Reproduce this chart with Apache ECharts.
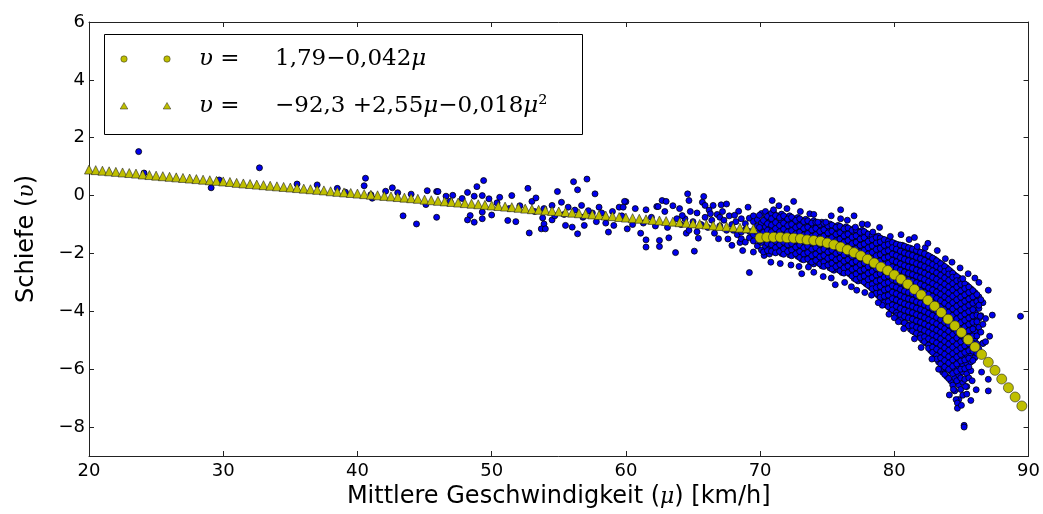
<!DOCTYPE html>
<html>
<head>
<meta charset="utf-8">
<script src="https://cdn.jsdelivr.net/npm/echarts@6.0.0/dist/echarts.min.js"></script>
<style>
	html, body { margin: 0; padding: 0; background: #fff; }
	#chart { width: 1043px; height: 514px; }
</style>
</head>
<body>
<div id="chart"></div>
<script>
/* Achsen */
const xTicks = [20, 30, 40, 50, 60, 70, 80, 90];
const yTicks = [-8, -6, -4, -2, 0, 2, 4, 6];

/* Dreiecke (linearer Fit) */
const triMu = [
	20, 20.5, 21, 21.5, 22, 22.5, 23, 23.5, 24, 24.5,
	25, 25.5, 26, 26.5, 27, 27.5, 28, 28.5, 29, 29.5,
	30, 30.5, 31, 31.5, 32, 32.5, 33, 33.5, 34, 34.5,
	35, 35.5, 36, 36.5, 37, 37.5, 38, 38.5, 39, 39.5,
	40, 40.5, 41, 41.5, 42, 42.5, 43, 43.5, 44, 44.5,
	45, 45.5, 46, 46.5, 47, 47.5, 48, 48.5, 49, 49.5,
	50, 50.5, 51, 51.5, 52, 52.5, 53, 53.5, 54, 54.5,
	55, 55.5, 56, 56.5, 57, 57.5, 58, 58.5, 59, 59.5,
	60, 60.5, 61, 61.5, 62, 62.5, 63, 63.5, 64, 64.5,
	65, 65.5, 66, 66.5, 67, 67.5, 68, 68.5, 69, 69.5
];
const triV = [
	0.90, 0.88, 0.86, 0.84, 0.82, 0.80, 0.78, 0.76, 0.73, 0.71,
	0.69, 0.67, 0.65, 0.63, 0.61, 0.59, 0.57, 0.55, 0.53, 0.51,
	0.49, 0.47, 0.44, 0.42, 0.40, 0.38, 0.36, 0.34, 0.32, 0.30,
	0.28, 0.26, 0.24, 0.22, 0.20, 0.18, 0.15, 0.13, 0.11, 0.09,
	0.07, 0.05, 0.03, 0.01, -0.01, -0.03, -0.05, -0.07, -0.09, -0.11,
	-0.14, -0.16, -0.18, -0.20, -0.22, -0.24, -0.26, -0.28, -0.30, -0.32,
	-0.34, -0.36, -0.38, -0.40, -0.42, -0.45, -0.47, -0.49, -0.51, -0.53,
	-0.55, -0.57, -0.59, -0.61, -0.63, -0.65, -0.67, -0.69, -0.71, -0.74,
	-0.76, -0.78, -0.80, -0.82, -0.84, -0.86, -0.88, -0.90, -0.92, -0.94,
	-0.96, -0.98, -1.00, -1.03, -1.05, -1.07, -1.09, -1.11, -1.13, -1.15
];

/* Kreise (quadratischer Fit) */
const circMu = [
	70, 70.5, 71, 71.5, 72, 72.5, 73, 73.5, 74, 74.5,
	75, 75.5, 76, 76.5, 77, 77.5, 78, 78.5, 79, 79.5,
	80, 80.5, 81, 81.5, 82, 82.5, 83, 83.5, 84, 84.5,
	85, 85.5, 86, 86.5, 87, 87.5, 88, 88.5, 89, 89.5
];
const circV = [
	-1.46, -1.44, -1.44, -1.44, -1.46, -1.47, -1.49, -1.53, -1.55, -1.58,
	-1.64, -1.70, -1.78, -1.87, -1.97, -2.08, -2.20, -2.33, -2.47, -2.59,
	-2.74, -2.89, -3.06, -3.24, -3.43, -3.62, -3.82, -4.04, -4.27, -4.50,
	-4.73, -4.98, -5.23, -5.49, -5.76, -6.04, -6.34, -6.64, -6.96, -7.27
];

/* Messpunkte, vereinzelt */
const sparsePoints = [
	[23.7, 1.52], [24.1, 0.78], [29.1, 0.27], [29.7, 0.54], [32.7, 0.96], [35.5, 0.40], [37.0, 0.37],
	[38.5, 0.25], [39.1, 0.12], [40.6, 0.60], [40.5, 0.34], [41.0, 0.03], [41.1, -0.09], [42.1, 0.15],
	[42.6, 0.27], [43.0, 0.10], [43.4, -0.70], [44.0, 0.05], [44.4, -0.98], [45.1, -0.31], [45.2, 0.17],
	[45.9, 0.14], [45.9, -0.75], [46.0, 0.14], [46.6, -0.02], [46.9, -0.20], [47.1, 0.01], [47.8, -0.10],
	[48.2, 0.11], [48.9, 0.31], [49.4, 0.52], [48.7, -0.02], [49.3, 0.00], [49.8, -0.11], [48.4, -0.69],
	[48.2, -0.84], [48.7, -0.92], [49.3, -0.57], [49.3, -0.80], [50.0, -0.67], [50.4, -0.25], [50.6, -0.06],
	[51.2, -0.86], [51.3, -0.45], [51.5, 0.00], [51.8, -0.90], [52.1, -0.35], [52.7, 0.25], [53.0, -0.20],
	[53.2, -0.55], [53.3, -0.08], [52.8, -1.29], [53.8, -0.77], [53.9, -0.98], [53.9, -0.45], [53.7, -1.15],
	[54.0, -1.15], [54.5, -0.84], [54.5, -0.34], [54.7, -0.70], [54.9, 0.14], [55.2, -0.23], [55.4, -0.65],
	[55.5, -1.03], [55.7, -0.40], [56.1, 0.48], [56.2, -0.50], [56.4, 0.20], [56.8, -0.75], [57.1, 0.57],
	[57.5, -0.60], [57.7, 0.06], [57.8, -0.90], [56.0, -1.09], [56.4, -1.32], [56.9, -1.03], [56.7, -0.34],
	[57.2, -0.52], [58.0, -0.40], [58.2, -0.60], [58.5, -0.95], [58.7, -1.26], [59.0, -0.55], [59.1, -1.03],
	[59.5, -0.40], [59.7, -0.70], [59.8, -0.40], [60.0, -0.21], [59.9, -0.20], [60.1, -1.15], [60.5, -1.00],
	[60.7, -0.45], [61.1, -1.30], [61.3, -0.95], [61.5, -1.53], [61.5, -1.78], [61.5, -0.49], [61.9, -0.75],
	[62.2, -1.05], [62.3, -0.38], [62.4, -0.38], [62.7, -0.17], [62.9, -0.55], [63.0, -0.20], [62.5, -1.55],
	[62.5, -1.76], [63.1, -1.10], [63.2, -1.46], [63.5, -0.35], [63.7, -1.97], [63.8, -0.80], [64.0, -0.45],
	[64.1, -1.00], [64.4, -0.80], [64.5, -1.30], [64.6, 0.06], [64.7, -0.17], [64.2, -0.69], [64.7, -1.20],
	[64.8, -0.55], [65.0, -0.90], [65.1, -1.92], [65.3, -0.60], [65.3, -1.25], [65.4, -1.47], [65.6, -1.00],
	[65.7, -0.23], [65.8, -0.03], [65.9, -0.34], [65.9, -0.75], [66.1, -1.10], [66.2, -0.50], [66.3, -0.63],
	[66.4, -0.85], [66.5, -0.34], [66.6, -1.30], [66.8, -0.65], [66.9, -1.49], [67.0, -0.75], [67.0, -1.05],
	[67.1, -0.32], [67.2, -0.55], [67.3, -0.85], [67.5, -0.29], [67.5, -1.20], [67.7, -0.70], [67.9, -1.00],
	[67.9, -1.72], [68.4, -0.54], [69.1, -0.40], [69.2, -2.66], [69.5, -1.95], [70.3, -2.07],
	[67.6, -1.50], [68.0, -1.20], [68.2, -0.90], [68.3, -1.35], [68.7, -1.90], [68.1, -0.68], [68.5, -1.62]
];

/* Messpunkte, dichter Bereich (Spalten) */
const denseCols = [
	[68.6, [-0.80, -1.26, -1.49]],
	[68.9, [-0.97, -1.18, -1.61]],
	[69.2, [-0.78, -1.24, -1.46]],
	[69.5, [-0.70, -0.90, -1.35, -1.57]],
	[69.8, [-0.83, -1.05, -1.28, -1.74]],
	[70.1, [-0.62, -0.95, -1.17, -1.40, -1.62, -1.88]],
	[70.4, [-0.55, -0.80, -1.08, -1.31, -1.53, -1.76]],
	[70.7, [-0.66, -0.92, -1.14, -1.36, -1.59, -1.83, -2.02]],
	[71.0, [-0.58, -0.83, -1.05, -1.27, -1.49, -1.71, -1.93]],
	[71.3, [-0.70, -0.97, -1.19, -1.41, -1.63, -1.86]],
	[71.6, [-0.64, -0.88, -1.10, -1.32, -1.55, -1.77, -2.00]],
	[71.9, [-0.74, -1.00, -1.22, -1.45, -1.67, -1.90]],
	[72.2, [-0.70, -0.93, -1.15, -1.37, -1.59, -1.81, -2.05]],
	[72.5, [-0.80, -1.05, -1.27, -1.50, -1.72, -1.95]],
	[72.8, [-0.76, -0.98, -1.20, -1.42, -1.64, -1.86, -2.10]],
	[73.1, [-0.86, -1.10, -1.32, -1.54, -1.77, -1.99, -2.20]],
	[73.4, [-0.82, -1.03, -1.25, -1.47, -1.69, -1.91, -2.13]],
	[73.7, [-0.93, -1.15, -1.37, -1.59, -1.81, -2.04, -2.27]],
	[74.0, [-0.87, -1.08, -1.30, -1.52, -1.74, -1.96, -2.18, -2.36]],
	[74.3, [-0.97, -1.19, -1.41, -1.63, -1.86, -2.08, -2.30]],
	[74.6, [-0.92, -1.13, -1.35, -1.57, -1.79, -2.01, -2.23, -2.43]],
	[74.9, [-1.02, -1.24, -1.46, -1.68, -1.90, -2.12, -2.35]],
	[75.2, [-0.98, -1.18, -1.40, -1.62, -1.84, -2.06, -2.28, -2.50]],
	[75.5, [-1.07, -1.29, -1.51, -1.73, -1.95, -2.17, -2.40, -2.58]],
	[75.8, [-1.03, -1.23, -1.45, -1.67, -1.89, -2.11, -2.33, -2.55]],
	[76.1, [-1.12, -1.34, -1.56, -1.78, -2.00, -2.22, -2.44, -2.66]],
	[76.4, [-1.08, -1.28, -1.50, -1.72, -1.94, -2.16, -2.38, -2.60]],
	[76.7, [-1.17, -1.39, -1.61, -1.83, -2.05, -2.27, -2.49, -2.72]],
	[77.0, [-1.14, -1.33, -1.55, -1.77, -1.99, -2.21, -2.43, -2.65, -2.86]],
	[77.3, [-1.24, -1.45, -1.67, -1.89, -2.11, -2.33, -2.55, -2.77, -2.95]],
	[77.6, [-1.20, -1.40, -1.62, -1.84, -2.06, -2.28, -2.50, -2.72, -2.94]],
	[77.9, [-1.30, -1.51, -1.73, -1.95, -2.17, -2.39, -2.61, -2.83, -3.05]],
	[78.2, [-1.36, -1.47, -1.69, -1.91, -2.13, -2.35, -2.57, -2.79, -3.01, -3.15]],
	[78.5, [-1.42, -1.58, -1.80, -2.02, -2.24, -2.46, -2.68, -2.90, -3.12, -3.30]],
	[78.8, [-1.40, -1.54, -1.76, -1.98, -2.20, -2.42, -2.64, -2.86, -3.08, -3.30, -3.45]],
	[79.1, [-1.50, -1.66, -1.88, -2.10, -2.32, -2.54, -2.76, -2.98, -3.20, -3.42, -3.62]],
	[79.4, [-1.55, -1.62, -1.84, -2.06, -2.28, -2.50, -2.72, -2.94, -3.16, -3.38, -3.60, -3.78]],
	[79.7, [-1.60, -1.74, -1.96, -2.18, -2.40, -2.62, -2.84, -3.06, -3.28, -3.50, -3.72, -3.90]],
	[80.0, [-1.65, -1.80, -2.02, -2.24, -2.46, -2.68, -2.90, -3.12, -3.34, -3.56, -3.78, -4.00]],
	[80.3, [-1.70, -1.88, -2.10, -2.32, -2.54, -2.76, -2.98, -3.20, -3.42, -3.64, -3.86, -4.08, -4.25]],
	[80.6, [-1.72, -1.94, -2.16, -2.38, -2.60, -2.82, -3.04, -3.26, -3.48, -3.70, -3.92, -4.14, -4.36]],
	[80.9, [-1.78, -2.00, -2.22, -2.44, -2.66, -2.88, -3.10, -3.32, -3.54, -3.76, -3.98, -4.20, -4.45]],
	[81.2, [-1.82, -2.04, -2.26, -2.48, -2.70, -2.92, -3.14, -3.36, -3.58, -3.80, -4.02, -4.24, -4.46, -4.62]],
	[81.5, [-1.88, -2.10, -2.32, -2.54, -2.76, -2.98, -3.20, -3.42, -3.64, -3.86, -4.08, -4.30, -4.52, -4.72]],
	[81.8, [-1.93, -2.14, -2.36, -2.58, -2.80, -3.02, -3.24, -3.46, -3.68, -3.90, -4.12, -4.34, -4.56, -4.80]],
	[82.1, [-1.98, -2.20, -2.42, -2.64, -2.86, -3.08, -3.30, -3.52, -3.74, -3.96, -4.18, -4.40, -4.62, -4.84, -5.00]],
	[82.4, [-2.05, -2.26, -2.48, -2.70, -2.92, -3.14, -3.36, -3.58, -3.80, -4.02, -4.24, -4.46, -4.68, -4.90, -5.10]],
	[82.7, [-2.12, -2.34, -2.56, -2.78, -3.00, -3.22, -3.44, -3.66, -3.88, -4.10, -4.32, -4.54, -4.76, -4.98, -5.20, -5.35]],
	[83.0, [-2.20, -2.40, -2.62, -2.84, -3.06, -3.28, -3.50, -3.72, -3.94, -4.16, -4.38, -4.60, -4.82, -5.04, -5.26, -5.48]],
	[83.3, [-2.30, -2.48, -2.70, -2.92, -3.14, -3.36, -3.58, -3.80, -4.02, -4.24, -4.46, -4.68, -4.90, -5.12, -5.34, -5.56, -5.75]],
	[83.6, [-2.40, -2.56, -2.78, -3.00, -3.22, -3.44, -3.66, -3.88, -4.10, -4.32, -4.54, -4.76, -4.98, -5.20, -5.42, -5.64, -5.88, -6.10]],
	[83.9, [-2.50, -2.66, -2.88, -3.10, -3.32, -3.54, -3.76, -3.98, -4.20, -4.42, -4.64, -4.86, -5.08, -5.30, -5.52, -5.74, -5.96, -6.25]],
	[84.2, [-2.62, -2.76, -2.98, -3.20, -3.42, -3.64, -3.86, -4.08, -4.30, -4.52, -4.74, -4.96, -5.18, -5.40, -5.62, -5.84, -6.06, -6.40]],
	[84.5, [-2.75, -2.88, -3.10, -3.32, -3.54, -3.76, -3.98, -4.20, -4.42, -4.64, -4.86, -5.08, -5.30, -5.52, -5.74, -5.98, -6.30, -6.75]],
	[84.8, [-2.85, -3.00, -3.22, -3.44, -3.66, -3.88, -4.10, -4.32, -4.54, -4.76, -4.98, -5.20, -5.42, -5.64, -5.90, -6.20, -6.55, -7.05]],
	[85.1, [-3.00, -3.14, -3.36, -3.58, -3.80, -4.02, -4.24, -4.46, -4.68, -4.90, -5.12, -5.34, -5.56, -5.85, -6.10, -6.45, -6.90]],
	[85.4, [-3.10, -3.28, -3.50, -3.72, -3.94, -4.16, -4.38, -4.60, -4.82, -5.04, -5.26, -5.50, -5.80, -6.15, -6.60]],
	[85.7, [-3.22, -3.42, -3.64, -3.86, -4.08, -4.30, -4.52, -4.74, -4.96, -5.20, -5.45, -5.75, -6.05]],
	[86.0, [-3.35, -3.58, -3.80, -4.02, -4.24, -4.46, -4.70, -4.95, -5.25, -5.60]],
	[86.3, [-3.50, -3.90, -4.25, -4.55, -5.30]],
	[86.6, [-3.70, -4.45, -5.10]]
];

/* Messpunkte, dichter Bereich (Zwischenspalten) */
const denseMidCols = [
	[69.95, [-0.68, -1.10, -1.57]],
	[70.25, [-0.86, -1.27, -1.49, -1.95]],
	[70.55, [-0.72, -0.97, -1.20, -1.42, -1.65, -1.90]],
	[70.85, [-0.61, -0.80, -1.02, -1.25, -1.47, -1.70, -1.92]],
	[71.15, [-0.69, -0.93, -1.14, -1.35, -1.58, -1.80, -1.98]],
	[71.45, [-0.76, -1.03, -1.25, -1.47, -1.70, -1.93]],
	[71.75, [-0.70, -0.95, -1.16, -1.38, -1.61, -1.84, -2.03]],
	[72.05, [-0.81, -1.04, -1.26, -1.48, -1.70, -1.93]],
	[72.35, [-0.75, -0.99, -1.21, -1.43, -1.66, -1.88, -2.08]],
	[72.65, [-0.86, -1.10, -1.32, -1.55, -1.78, -2.01]],
	[72.95, [-0.80, -1.04, -1.26, -1.48, -1.71, -1.93, -2.14]],
	[73.25, [-0.90, -1.14, -1.36, -1.58, -1.80, -2.02, -2.22]],
	[73.55, [-0.87, -1.09, -1.31, -1.53, -1.75, -1.97, -2.19]],
	[73.85, [-0.95, -1.19, -1.41, -1.63, -1.85, -2.08, -2.30]],
	[74.15, [-0.92, -1.13, -1.35, -1.57, -1.80, -2.02, -2.24]],
	[74.45, [-1.00, -1.24, -1.46, -1.68, -1.90, -2.12, -2.36]],
	[74.75, [-0.96, -1.18, -1.40, -1.62, -1.85, -2.07, -2.29, -2.45]],
	[75.05, [-1.05, -1.29, -1.51, -1.73, -1.95, -2.17, -2.40]],
	[75.35, [-1.02, -1.23, -1.45, -1.67, -1.89, -2.12, -2.34, -2.54]],
	[75.65, [-1.10, -1.34, -1.56, -1.78, -2.00, -2.22, -2.45]],
	[75.95, [-1.06, -1.28, -1.50, -1.72, -1.94, -2.16, -2.38, -2.60]],
	[76.25, [-1.15, -1.39, -1.61, -1.83, -2.05, -2.27, -2.50, -2.68]],
	[76.55, [-1.12, -1.33, -1.55, -1.77, -1.99, -2.21, -2.44, -2.66]],
	[76.85, [-1.20, -1.44, -1.66, -1.88, -2.10, -2.32, -2.55, -2.78]],
	[77.15, [-1.18, -1.39, -1.61, -1.83, -2.05, -2.27, -2.49, -2.71, -2.90]],
	[77.45, [-1.27, -1.50, -1.72, -1.94, -2.16, -2.38, -2.60, -2.83]],
	[77.75, [-1.24, -1.45, -1.67, -1.89, -2.11, -2.33, -2.55, -2.78, -2.99]],
	[78.05, [-1.33, -1.58, -1.80, -2.02, -2.24, -2.46, -2.68, -2.90, -3.10]],
	[78.35, [-1.38, -1.52, -1.74, -1.96, -2.18, -2.40, -2.62, -2.84, -3.06, -3.22]],
	[78.65, [-1.45, -1.64, -1.86, -2.08, -2.30, -2.52, -2.74, -2.96, -3.18, -3.38]],
	[78.95, [-1.47, -1.60, -1.82, -2.04, -2.26, -2.48, -2.70, -2.92, -3.14, -3.36, -3.52]],
	[79.25, [-1.52, -1.72, -1.94, -2.16, -2.38, -2.60, -2.82, -3.04, -3.26, -3.48, -3.70]],
	[79.55, [-1.58, -1.68, -1.90, -2.12, -2.34, -2.56, -2.78, -3.00, -3.22, -3.44, -3.66, -3.84]],
	[79.85, [-1.62, -1.80, -2.02, -2.24, -2.46, -2.68, -2.90, -3.12, -3.34, -3.56, -3.78, -3.95]],
	[80.15, [-1.68, -1.85, -2.07, -2.29, -2.51, -2.73, -2.95, -3.17, -3.39, -3.61, -3.83, -4.05, -4.15]],
	[80.45, [-1.71, -1.92, -2.14, -2.36, -2.58, -2.80, -3.02, -3.24, -3.46, -3.68, -3.90, -4.12, -4.30]],
	[80.75, [-1.75, -1.98, -2.20, -2.42, -2.64, -2.86, -3.08, -3.30, -3.52, -3.74, -3.96, -4.18, -4.40]],
	[81.05, [-1.80, -2.03, -2.25, -2.47, -2.69, -2.91, -3.13, -3.35, -3.57, -3.79, -4.01, -4.23, -4.50]],
	[81.35, [-1.85, -2.07, -2.29, -2.51, -2.73, -2.95, -3.17, -3.39, -3.61, -3.83, -4.05, -4.27, -4.49, -4.68]],
	[81.65, [-1.90, -2.13, -2.35, -2.57, -2.79, -3.01, -3.23, -3.45, -3.67, -3.89, -4.11, -4.33, -4.55, -4.76]],
	[81.95, [-1.96, -2.18, -2.40, -2.62, -2.84, -3.06, -3.28, -3.50, -3.72, -3.94, -4.16, -4.38, -4.60, -4.82, -4.92]],
	[82.25, [-2.01, -2.24, -2.46, -2.68, -2.90, -3.12, -3.34, -3.56, -3.78, -4.00, -4.22, -4.44, -4.66, -4.88, -5.05]],
	[82.55, [-2.08, -2.31, -2.53, -2.75, -2.97, -3.19, -3.41, -3.63, -3.85, -4.07, -4.29, -4.51, -4.73, -4.95, -5.17, -5.28]],
	[82.85, [-2.16, -2.38, -2.60, -2.82, -3.04, -3.26, -3.48, -3.70, -3.92, -4.14, -4.36, -4.58, -4.80, -5.02, -5.24, -5.42]],
	[83.15, [-2.25, -2.45, -2.67, -2.89, -3.11, -3.33, -3.55, -3.77, -3.99, -4.21, -4.43, -4.65, -4.87, -5.09, -5.31, -5.53, -5.65]],
	[83.45, [-2.35, -2.53, -2.75, -2.97, -3.19, -3.41, -3.63, -3.85, -4.07, -4.29, -4.51, -4.73, -4.95, -5.17, -5.39, -5.61, -5.82, -6.00]],
	[83.75, [-2.45, -2.62, -2.84, -3.06, -3.28, -3.50, -3.72, -3.94, -4.16, -4.38, -4.60, -4.82, -5.04, -5.26, -5.48, -5.70, -5.92, -6.18]],
	[84.05, [-2.56, -2.71, -2.93, -3.15, -3.37, -3.59, -3.81, -4.03, -4.25, -4.47, -4.69, -4.91, -5.13, -5.35, -5.57, -5.79, -6.01, -6.32]],
	[84.35, [-2.68, -2.82, -3.04, -3.26, -3.48, -3.70, -3.92, -4.14, -4.36, -4.58, -4.80, -5.02, -5.24, -5.46, -5.68, -5.90, -6.15, -6.55]],
	[84.65, [-2.80, -2.94, -3.16, -3.38, -3.60, -3.82, -4.04, -4.26, -4.48, -4.70, -4.92, -5.14, -5.36, -5.58, -5.82, -6.08, -6.40]],
	[84.95, [-2.92, -3.07, -3.29, -3.51, -3.73, -3.95, -4.17, -4.39, -4.61, -4.83, -5.05, -5.27, -5.49, -5.72, -6.00, -6.30, -6.70]],
	[85.25, [-3.05, -3.21, -3.43, -3.65, -3.87, -4.09, -4.31, -4.53, -4.75, -4.97, -5.19, -5.42, -5.68, -5.98, -6.35]],
	[85.55, [-3.16, -3.35, -3.57, -3.79, -4.01, -4.23, -4.45, -4.67, -4.89, -5.12, -5.36, -5.62, -5.92, -6.30]],
	[85.85, [-3.28, -3.50, -3.72, -3.94, -4.16, -4.38, -4.61, -4.85, -5.10, -5.38, -5.70]],
	[86.15, [-3.42, -3.66, -4.13, -4.36, -4.85, -5.12, -5.45]],
	[86.45, [-3.60, -4.15, -4.72, -5.50]]
];

/* Ausreisser rund um den dichten Bereich */
const edgePoints = [
	[70.9, -0.17], [72.5, -0.20], [71.0, -0.49], [73.7, -0.63], [74.3, -0.92], [74.9, -0.92], [76.0, -0.49],
	[76.0, -0.80], [77.1, -1.09], [77.6, -0.98], [78.4, -1.26], [79.7, -1.41], [81.1, -1.52], [81.7, -1.76],
	[82.3, -1.80], [83.8, -2.18], [85.1, -2.87], [86.0, -2.85], [87.0, -3.27], [73.1, -2.70], [73.6, -2.47],
	[75.6, -3.08], [77.2, -3.27], [78.3, -3.44], [79.1, -3.79], [80.0, -4.22], [80.3, -4.36], [84.1, -6.89],
	[84.6, -7.05], [84.7, -7.17], [84.7, -7.35], [85.2, -7.94], [85.2, -8.00], [85.3, -6.60], [85.4, -6.86],
	[85.7, -7.08], [86.1, -6.71], [87.0, -6.35], [87.0, -6.75], [86.6, -5.11], [87.1, -4.86], [86.8, -5.05],
	[87.3, -4.13], [86.4, -4.17], [86.8, -4.25], [86.3, -3.79], [89.4, -4.17],
	[71.4, -0.35], [72.0, -0.45], [73.0, -0.55], [74.0, -0.65], [75.3, -0.70], [76.5, -0.85], [77.0, -0.70],
	[78.0, -1.00], [78.9, -1.10], [80.5, -1.35], [81.5, -1.45], [82.5, -1.65], [83.2, -1.90], [84.3, -2.30],
	[84.9, -2.50], [85.5, -2.70], [86.3, -3.00], [70.8, -2.30], [71.5, -2.35], [72.3, -2.40], [72.9, -2.45],
	[74.0, -2.65], [74.7, -2.80], [75.3, -2.85], [76.3, -3.00], [76.8, -3.15], [77.8, -3.35], [78.8, -3.70],
	[79.6, -4.10], [80.7, -4.60], [81.5, -4.95], [82.0, -5.25], [82.8, -5.65], [83.3, -6.00], [84.4, -6.70],
	[85.0, -7.25], [85.8, -6.40], [86.5, -6.10]
];

const densePoints = [];
denseCols.concat(denseMidCols).forEach(([mu, vs]) => vs.forEach(v => densePoints.push([mu, v])));
const blueData = sparsePoints.concat(densePoints, edgePoints);
const triData = triMu.map((m, i) => [m, triV[i]]);
const circData = circMu.map((m, i) => [m, circV[i]]);

const chart = echarts.init(document.getElementById('chart'), null, { renderer: 'canvas' });
const sans = 'DejaVu Sans';
const serif = 'DejaVu Serif';
const axisLine = { show: true, onZero: false, lineStyle: { color: '#222', width: 1 } };
const tickIn = values => ({ show: true, inside: true, length: 5, lineStyle: { color: '#222', width: 1 }, customValues: values });
const minus = v => String(v).replace('-', '\u2212');
const yellow = '#bfbf00';
const legendRich = {
	i: { fontFamily: serif, fontStyle: 'italic', fontSize: 23, fill: '#000' },
	n: { fontFamily: serif, fontSize: 23, fill: '#000' }
};

chart.setOption({
	animation: false,
	backgroundColor: '#fff',
	grid: { left: 89, right: 14, top: 22, bottom: 57 },
	xAxis: [
		{
			type: 'value', min: 20, max: 90, interval: 10, position: 'bottom',
			axisLine, axisTick: tickIn(xTicks), splitLine: { show: false },
			axisLabel: { customValues: xTicks, color: '#000', fontFamily: sans, fontSize: 18, margin: 6 },
			name: '{a|Mittlere Geschwindigkeit (}{m|\u03bc}{a|) [km/h]}',
			nameLocation: 'middle', nameGap: 29,
			nameTextStyle: {
				rich: {
					a: { fontFamily: sans, fontSize: 24, color: '#000' },
					m: { fontFamily: serif, fontStyle: 'italic', fontSize: 22, color: '#000' }
				}
			}
		},
		{
			type: 'value', min: 20, max: 90, interval: 10, position: 'top',
			axisLine, axisTick: tickIn(xTicks), axisLabel: { show: false }, splitLine: { show: false }
		}
	],
	yAxis: [
		{
			type: 'value', min: -9, max: 6, position: 'left',
			axisLine, axisTick: tickIn(yTicks), splitLine: { show: false },
			axisLabel: { customValues: yTicks, formatter: minus, color: '#000', fontFamily: sans, fontSize: 18, margin: 4 },
			name: '{a|Schiefe (}{m|\u03c5}{a|)}',
			nameLocation: 'middle', nameGap: 50, nameRotate: 90,
			nameTextStyle: {
				rich: {
					a: { fontFamily: sans, fontSize: 24, color: '#000' },
					m: { fontFamily: serif, fontStyle: 'italic', fontSize: 22, color: '#000' }
				}
			}
		},
		{
			type: 'value', min: -9, max: 6, position: 'right',
			axisLine, axisTick: tickIn(yTicks), axisLabel: { show: false }, splitLine: { show: false }
		}
	],
	series: [
		{
			type: 'scatter', name: 'Messwerte', data: blueData, z: 2,
			symbol: 'circle', symbolSize: 6,
			itemStyle: { color: '#0000ee', borderColor: '#000', borderWidth: 0.8, opacity: 1 }
		},
		{
			type: 'scatter', name: 'tri', data: triData, z: 3,
			symbol: 'triangle', symbolSize: [9, 9],
			itemStyle: { color: yellow, borderColor: '#222', borderWidth: 0.6, opacity: 1 }
		},
		{
			type: 'scatter', name: 'circ', data: circData, z: 4,
			symbol: 'circle', symbolSize: 10,
			itemStyle: { color: yellow, borderColor: '#222', borderWidth: 0.6, opacity: 1 }
		}
	],
	graphic: [
		{
			type: 'group', z: 100,
			children: [
				{ type: 'rect', shape: { x: 104.5, y: 34.5, width: 478, height: 100 }, style: { fill: '#fff', stroke: '#000', lineWidth: 1 } },
				{ type: 'circle', shape: { cx: 124, cy: 59, r: 3.2 }, style: { fill: yellow, stroke: '#222', lineWidth: 0.5 } },
				{ type: 'circle', shape: { cx: 167, cy: 59, r: 3.2 }, style: { fill: yellow, stroke: '#222', lineWidth: 0.5 } },
				{ type: 'polygon', shape: { points: [[124, 102.5], [127.8, 109], [120.2, 109]] }, style: { fill: yellow, stroke: '#222', lineWidth: 0.5 } },
				{ type: 'polygon', shape: { points: [[167, 102.5], [170.8, 109], [163.2, 109]] }, style: { fill: yellow, stroke: '#222', lineWidth: 0.5 } },
				{ type: 'text', x: 199, y: 59, style: { text: '{i|\u03c5}{n| =}', verticalAlign: 'middle', rich: legendRich } },
				{ type: 'text', x: 275, y: 59, style: { text: '{n|1,79\u22120,042}{i|\u03bc}', verticalAlign: 'middle', rich: legendRich } },
				{ type: 'text', x: 199, y: 106, style: { text: '{i|\u03c5}{n| =}', verticalAlign: 'middle', rich: legendRich } },
				{ type: 'text', x: 275, y: 106, style: { text: '{n|\u221292,3 +2,55}{i|\u03bc}{n|\u22120,018}{i|\u03bc}{n|\u00b2}', verticalAlign: 'middle', rich: legendRich } }
			]
		}
	]
});
</script>
</body>
</html>
